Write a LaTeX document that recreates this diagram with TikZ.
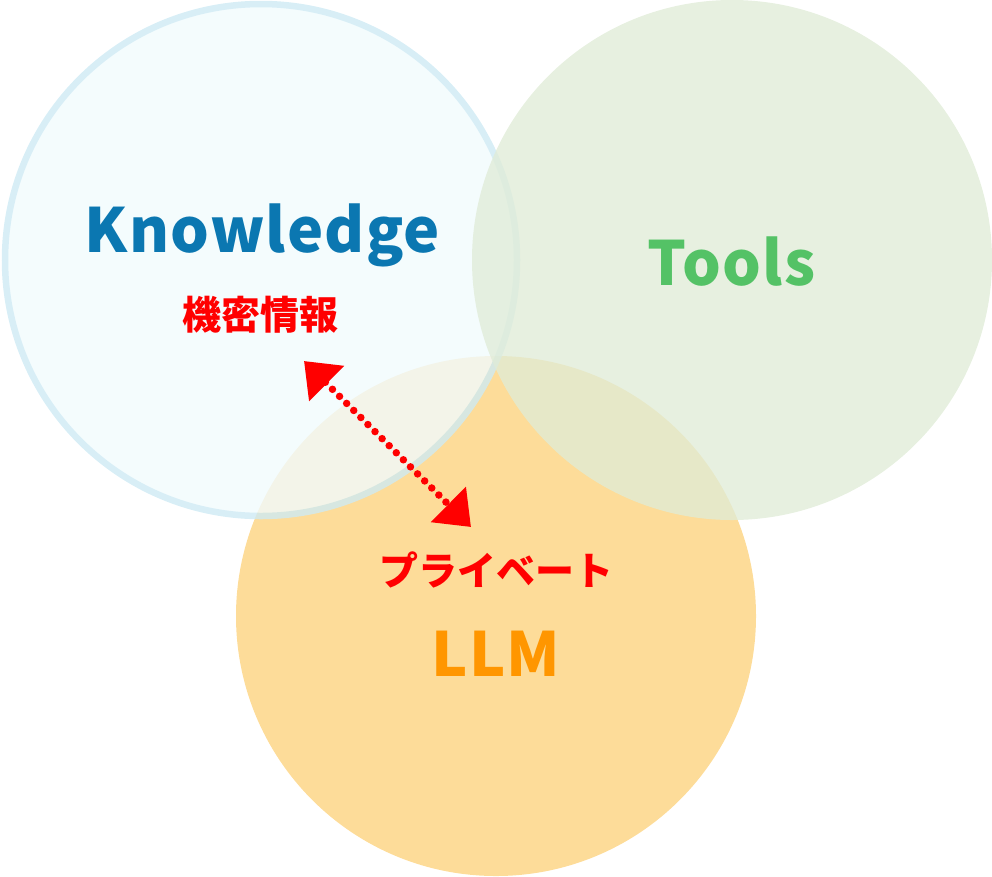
\documentclass[tikz,border=0pt]{standalone}
\usepackage{fontspec}
\setmainfont{Noto Sans CJK JP}
\newfontfamily\latinsp{Noto Sans CJK JP}[LetterSpace=2]
\usetikzlibrary{arrows.meta}
\definecolor{kfill}{RGB}{241,251,253}
\definecolor{kline}{RGB}{206,234,244}
\definecolor{tfill}{RGB}{224,236,215}
\definecolor{lfill}{RGB}{253,220,153}
\definecolor{kblue}{RGB}{11,119,177}
\definecolor{tgreen}{RGB}{84,194,102}
\definecolor{lorange}{RGB}{255,150,0}
\definecolor{jred}{RGB}{255,0,0}
\tikzset{
  bigword/.style={inner sep=0pt, anchor=base, font=\latinsp\bfseries\fontsize{61}{61}\selectfont},
  jpword/.style={inner sep=0pt, anchor=base, text=jred, font=\bfseries\fontsize{39}{39}\selectfont},
  dotarrow/.style={jred, line width=7.5pt, line cap=round, dash pattern=on 0pt off 10pt,
    {Triangle[length=32pt,width=48pt]}-{Triangle[length=32pt,width=48pt]}}
}
\begin{document}
\begin{tikzpicture}[x=1pt,y=-1pt]
\useasboundingbox (0,0) rectangle (992,876);
% LLM circle
\fill[lfill] (496,616) circle[radius=260];
% Knowledge circle
\begin{scope}[transparency group, opacity=0.8]
\draw[kline, fill=kfill, line width=6.5pt] (261,260) circle[radius=256];
\end{scope}
% Tools circle
\fill[tfill, fill opacity=0.77] (732,260) circle[radius=260];
% texts
\node[bigword, text=kblue] (know) at (262.5,252) {Knowledge};
\node[bigword, text=tgreen] (tools) at (731.5,285) {Tools};
\node[bigword, text=lorange] (llm) at (496,676) {LLM};
\node[jpword] (kimitsu) at (260,329) {機密情報};
\node[jpword] (private) at (496,585) {プライベート};
% arrow
\coordinate (a1) at (304,361);
\coordinate (a2) at (471,527);
\draw[dotarrow] (a1) -- (a2);
\end{tikzpicture}
\end{document}
